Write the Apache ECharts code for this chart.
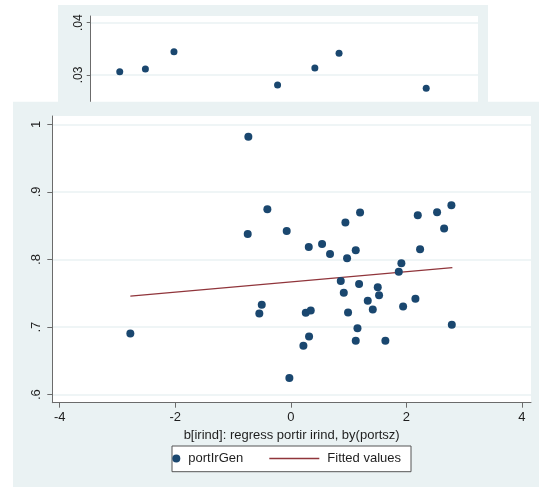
<!DOCTYPE html>
<html>
<head>
<meta charset="utf-8">
<script src="https://cdn.jsdelivr.net/npm/echarts@6/dist/echarts.min.js"></script>
<style>
  html, body { margin: 0; padding: 0; background: #ffffff; }
  #chart { width: 539px; height: 487px; }
</style>
</head>
<body>
<div id="chart"></div>
<script>
// Upper panel: a second scatter of the same kind, partly hidden behind the main graph
const upperX = [-3.40, -2.87, -2.28, -0.14, 0.63, 1.13, 2.93];
const upperY = [0.03063, 0.03115, 0.03446, 0.02809, 0.03134, 0.03415, 0.02746];
const upperYTicks = [0.02, 0.03, 0.04];

// Main panel: estimated irind coefficient by portfolio size vs portIrGen
const irindCoef = [
  -0.734, -0.405, -0.745, -0.070, 0.312, 0.542, 0.680, 0.946, 1.200, 0.975,
   1.125,  2.199,  2.533,  2.781, 2.655, 2.239, 1.915, 1.870, 0.866, 1.183,
   1.506,  0.918,  1.529,  1.333, 1.420, 1.945, 2.158, 0.260, 0.346, 0.992,
   1.155,  0.317,  0.219,  1.125, 1.638, 2.788, -0.024, -2.777, -0.502, -0.544
];
const portIrGen = [
  0.9816, 0.8744, 0.8378, 0.8420, 0.8184, 0.8229, 0.8081, 0.8547, 0.8695, 0.8017,
  0.8135, 0.8655, 0.8700, 0.8803, 0.8458, 0.8153, 0.7945, 0.7820, 0.7680, 0.7636,
  0.7590, 0.7508, 0.7470, 0.7390, 0.7260, 0.7305, 0.7420, 0.7212, 0.7246, 0.7216,
  0.6983, 0.6860, 0.6722, 0.6797, 0.6797, 0.7034, 0.6248, 0.6905, 0.7330, 0.7201
];
// Linear fit, evaluated at the ends of the x range
const fitX = [-2.777, 2.798];
const fitY = [0.7458, 0.7879];

const xTicks = [-4, -2, 0, 2, 4];
const yTicks = [0.6, 0.7, 0.8, 0.9, 1.0];
const xTitle = 'b[irind]: regress portir irind, by(portsz)';

const FONT = 'Liberation Sans, Arial, sans-serif';
const NAVY = '#1a476f';
const MAROON = '#90353b';
const PANEL = '#eaf2f3';
const AXIS = '#6b6b6b';
const TEXT = '#1e1e1e';

const stataNum = v => {
  const s = String(+v.toFixed(4));
  return s.replace(/^0\./, '.').replace(/^-0\./, '-.');
};

const chart = echarts.init(document.getElementById('chart'), null, { renderer: 'canvas' });

chart.setOption({
  animation: false,
  backgroundColor: '#ffffff',
  textStyle: { fontFamily: FONT },
  graphic: [
    // upper panel background and plot region
    { type: 'rect', z: 0, z2: 0, shape: { x: 58, y: 5, width: 430, height: 130 }, style: { fill: PANEL } },
    { type: 'rect', z: 0, z2: 1, shape: { x: 90.7, y: 16, width: 387.3, height: 110 }, style: { fill: '#ffffff' } },
    // main panel background and plot region
    { type: 'rect', z: 3, z2: 0, shape: { x: 13, y: 101.7, width: 530, height: 390 }, style: { fill: PANEL } },
    { type: 'rect', z: 3, z2: 1, shape: { x: 52.3, y: 116, width: 478.7, height: 286 }, style: { fill: '#ffffff' } },
    // legend frame
    { type: 'rect', z: 6, shape: { x: 172, y: 446, width: 239, height: 25.7 },
      style: { fill: '#ffffff', stroke: '#555555', lineWidth: 1 } }
  ],
  grid: [
    { left: 90.7, right: 61, top: 16, bottom: 359.7, show: false },
    { left: 52.3, right: 8, top: 116, bottom: 84.3, show: false }
  ],
  xAxis: [
    { gridIndex: 0, type: 'value', min: -4, max: 4, show: false, z: 1 },
    {
      gridIndex: 1, type: 'value', min: -4.128, max: 4.159, z: 4,
      axisLine: { show: true, onZero: false, lineStyle: { color: AXIS, width: 1 } },
      axisTick: { show: true, length: 5, customValues: xTicks, lineStyle: { color: AXIS } },
      axisLabel: { customValues: xTicks, margin: 8, fontSize: 13, color: TEXT, fontFamily: FONT,
                   formatter: v => String(v) },
      splitLine: { show: false },
      name: xTitle, nameLocation: 'middle', nameGap: 24,
      nameTextStyle: { fontSize: 13, color: TEXT, fontFamily: FONT }
    }
  ],
  yAxis: [
    {
      gridIndex: 0, type: 'value', min: 0.02, max: 0.04128, z: 1,
      axisLine: { show: true, onZero: false, lineStyle: { color: AXIS, width: 1 } },
      axisTick: { show: true, length: 4, customValues: upperYTicks, lineStyle: { color: AXIS } },
      axisLabel: { customValues: upperYTicks, rotate: 90, margin: 6, fontSize: 12, color: TEXT,
                   fontFamily: FONT, formatter: stataNum },
      splitLine: { show: true, lineStyle: { color: PANEL, width: 1.5 } }
    },
    {
      gridIndex: 1, type: 'value', min: 0.5881, max: 1.0123, z: 4,
      axisLine: { show: true, onZero: false, lineStyle: { color: AXIS, width: 1 } },
      axisTick: { show: true, length: 5, customValues: yTicks, lineStyle: { color: AXIS } },
      axisLabel: { customValues: yTicks, rotate: 90, margin: 9, fontSize: 13, color: TEXT,
                   fontFamily: FONT, formatter: stataNum },
      splitLine: { show: true, lineStyle: { color: PANEL, width: 1.5 } }
    }
  ],
  legend: [
    {
      data: ['portIrGen'], left: 172.3, top: 452, padding: 0,
      itemWidth: 14, itemHeight: 8, icon: 'circle', z: 7,
      textStyle: { fontSize: 13, color: TEXT, fontFamily: FONT }
    },
    {
      data: [{ name: 'Fitted values', icon: 'rect', itemStyle: { color: MAROON } }],
      left: 269.3, top: 452, padding: 0,
      itemWidth: 50, itemHeight: 1.3, z: 7,
      textStyle: { fontSize: 13, color: TEXT, fontFamily: FONT, padding: [0, 0, 0, 3] }
    }
  ],
  series: [
    {
      name: 'upper', type: 'scatter', xAxisIndex: 0, yAxisIndex: 0, z: 2,
      symbolSize: 7, itemStyle: { color: NAVY, opacity: 1 },
      data: upperX.map((x, i) => [x, upperY[i]])
    },
    {
      name: 'portIrGen', type: 'scatter', xAxisIndex: 1, yAxisIndex: 1, z: 5,
      symbolSize: 8, itemStyle: { color: NAVY, opacity: 1 },
      data: irindCoef.map((x, i) => [x, portIrGen[i]])
    },
    {
      name: 'Fitted values', type: 'line', xAxisIndex: 1, yAxisIndex: 1, z: 5,
      symbol: 'none', lineStyle: { color: MAROON, width: 1.2 }, itemStyle: { color: MAROON },
      data: fitX.map((x, i) => [x, fitY[i]])
    }
  ]
});
</script>
</body>
</html>
